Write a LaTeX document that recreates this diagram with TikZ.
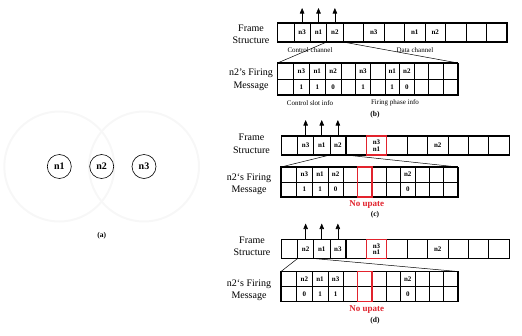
\documentclass[tikz,border=0pt]{standalone}
\usepackage{fontspec}
\setmainfont{Liberation Serif}
\usepackage{xcolor}
\usepackage{tikz}
\usetikzlibrary{arrows.meta}
\definecolor{upred}{RGB}{225,35,45}

\begin{document}
\begin{tikzpicture}[x=1pt, y=-1pt,
	fcell/.style={draw, line width=0.5pt, inner sep=0pt, outer sep=0pt, minimum height=19pt, align=center, font=\bfseries\fontsize{7}{6.5}\selectfont},
	mcell/.style={draw, line width=0.5pt, inner sep=0pt, outer sep=0pt, minimum height=15pt, font=\bfseries\fontsize{7}{7}\selectfont},
	outer/.style={line width=1.1pt},
	redbox/.style={draw=upred, line width=1.1pt},
	fire/.style={-{Triangle[length=5.5pt, width=4.5pt]}, line width=0.6pt},
	zoomline/.style={line width=0.5pt},
	caption/.style={align=center, font=\fontsize{10}{12.5}\selectfont},
	note/.style={font=\fontsize{7}{7}\selectfont},
	sub/.style={font=\bfseries\fontsize{7.5}{7.5}\selectfont},
	upd/.style={text=upred, font=\bfseries\fontsize{9}{9}\selectfont},
	mote/.style={circle, draw, line width=0.6pt, minimum size=24pt, inner sep=0pt, font=\bfseries\fontsize{10}{10}\selectfont},
	rangering/.style={draw=black!3, line width=2pt}]
	\useasboundingbox (0,0) rectangle (522,335);

	\draw[rangering] (59.3,166.5) circle (55pt);
	\draw[rangering] (144,166.5) circle (55pt);
	\node[mote] (n1) at (59.3,166.5) {n1};
	\node[mote] (n2) at (101.7,166.5) {n2};
	\node[mote] (n3) at (144,166.5) {n3};
	\node[sub] (a-lab) at (101.7,236) {(a)};

	\foreach \i/\t in {1/{},2/n3,3/n1,4/n2}
		\node[fcell, minimum width=16.4pt] (b-f\i) at (269.3+16.4*\i, 32.5) {\t};
	\foreach \i/\t in {5/{},6/n3,7/{},8/n1,9/n2,10/{},11/{},12/{}}
		\node[fcell, minimum width=20.5pt] (b-f\i) at (250.75+20.5*\i, 32.5) {\t};
	\draw[outer] (b-f1.north west) rectangle (b-f12.south east);
	\draw[outer] (b-f4.north east) -- (b-f4.south east);
	\foreach \i in {2,3,4}
		\draw[fire] (b-f\i.north) -- ++(0,-15);
	\foreach \i/\t/\v in {1/{}/{},2/n3/1,3/n1/1,4/n2/0}{
		\node[mcell, minimum width=15.9pt, minimum height=16pt] (b-m\i) at (269.55+15.9*\i, 71) {\t};
		\node[mcell, minimum width=15.9pt, minimum height=16pt] (b-v\i) at (269.55+15.9*\i, 87) {\v};
	}
	\foreach \i/\t/\v in {5/{}/{},6/n3/1,7/{}/{},8/n1/1,9/n2/0,10/{}/{},11/{}/{},12/{}/{}}{
		\node[mcell, minimum width=14.6pt, minimum height=16pt] (b-m\i) at (275.4+14.6*\i, 71) {\t};
		\node[mcell, minimum width=14.6pt, minimum height=16pt] (b-v\i) at (275.4+14.6*\i, 87) {\v};
	}
	\draw[outer] (b-m1.north west) rectangle (b-v12.south east);
	\draw[outer] (b-m4.north east) -- (b-v4.south east);
	\draw[zoomline] (b-f4.south west) -- (b-m1.north west);
	\draw[zoomline] (b-f4.south east) -- (b-m12.north east);
	\node[caption] (b-fs) at (251,34.5) {Frame\\Structure};
	\node[caption] (b-fm) at (251,80) {n2's Firing\\Message};
	\node[note] (b-cc) at (310,50.5) {Control channel};
	\node[note] (b-dc) at (415,50.5) {Data channel};
	\node[note] (b-ci) at (310,103) {Control slot info};
	\node[note] (b-fi) at (395,103) {Firing phase info};
	\node[sub] (b-lab) at (375,115) {(b)};

	\foreach \i/\t in {1/{},2/n3,3/n1,4/n2}
		\node[fcell, minimum width=16.1pt] (c-f\i) at (273.45+16.1*\i, 145.5) {\t};
	\foreach \i/\t in {5/{},6/{n3\\n1},7/{},8/{},9/n2,10/{},11/{},12/{}}
		\node[fcell, minimum width=20.4pt] (c-f\i) at (254.1+20.4*\i, 145.5) {\t};
	\draw[outer] (c-f1.north west) rectangle (c-f12.south east);
	\draw[outer] (c-f4.north east) -- (c-f4.south east);
	\draw[redbox] (c-f6.north west) rectangle (c-f6.south east);
	\foreach \i in {2,3,4}
		\draw[fire] (c-f\i.north) -- ++(0,-16);
	\foreach \i/\t/\v in {1/{}/{},2/n3/1,3/n1/1,4/n2/0}{
		\node[mcell, minimum width=15.6pt] (c-m\i) at (273.2+15.6*\i, 174.5) {\t};
		\node[mcell, minimum width=15.6pt] (c-v\i) at (273.2+15.6*\i, 189.5) {\v};
	}
	\foreach \i/\t/\v in {5/{}/{},6/{}/{},7/{}/{},8/{}/{},9/n2/0,10/{}/{},11/{}/{},12/{}/{}}{
		\node[mcell, minimum width=14.3pt] (c-m\i) at (279.05+14.3*\i, 174.5) {\t};
		\node[mcell, minimum width=14.3pt] (c-v\i) at (279.05+14.3*\i, 189.5) {\v};
	}
	\draw[outer] (c-m1.north west) rectangle (c-v12.south east);
	\draw[outer] (c-m4.north east) -- (c-v4.south east);
	\draw[redbox] (c-m6.north west) rectangle (c-v6.south east);
	\draw[zoomline] (c-f4.south west) -- (c-m1.north west);
	\draw[zoomline] (c-f4.south east) -- (c-m12.north east);
	\node[caption] (c-fs) at (251.5,144) {Frame\\Structure};
	\node[caption] (c-fm) at (249,184) {n2`s Firing\\Message};
	\node[upd] (c-nu) at (366.7,205) {No upate};
	\node[sub] (c-lab) at (375,214.5) {(c)};

	\foreach \i/\t in {1/{},2/n2,3/n1,4/n3}
		\node[fcell, minimum width=16.1pt] (d-f\i) at (273.45+16.1*\i, 249) {\t};
	\foreach \i/\t in {5/{},6/{n3\\n1},7/{},8/{},9/n2,10/{},11/{},12/{}}
		\node[fcell, minimum width=20.4pt] (d-f\i) at (254.1+20.4*\i, 249) {\t};
	\draw[outer] (d-f1.north west) rectangle (d-f12.south east);
	\draw[outer] (d-f4.north east) -- (d-f4.south east);
	\draw[redbox] (d-f6.north west) rectangle (d-f6.south east);
	\foreach \i in {2,3,4}
		\draw[fire] (d-f\i.north) -- ++(0,-16);
	\foreach \i/\t/\v in {1/{}/{},2/n2/0,3/n1/1,4/n3/1}{
		\node[mcell, minimum width=15.6pt] (d-m\i) at (273.2+15.6*\i, 279) {\t};
		\node[mcell, minimum width=15.6pt] (d-v\i) at (273.2+15.6*\i, 294) {\v};
	}
	\foreach \i/\t/\v in {5/{}/{},6/{}/{},7/{}/{},8/{}/{},9/n2/0,10/{}/{},11/{}/{},12/{}/{}}{
		\node[mcell, minimum width=14.3pt] (d-m\i) at (279.05+14.3*\i, 279) {\t};
		\node[mcell, minimum width=14.3pt] (d-v\i) at (279.05+14.3*\i, 294) {\v};
	}
	\draw[outer] (d-m1.north west) rectangle (d-v12.south east);
	\draw[outer] (d-m4.north east) -- (d-v4.south east);
	\draw[redbox] (d-m6.north west) rectangle (d-v6.south east);
	\draw[zoomline] (d-f2.south west) -- (d-m1.north west);
	\draw[zoomline] (d-f2.south east) -- (d-m12.north east);
	\node[caption] (d-fs) at (252,246.5) {Frame\\Structure};
	\node[caption] (d-fm) at (249,290) {n2`s Firing\\Message};
	\node[upd] (d-nu) at (366.7,310) {No upate};
	\node[sub] (d-lab) at (375,321) {(d)};
\end{tikzpicture}
\end{document}
